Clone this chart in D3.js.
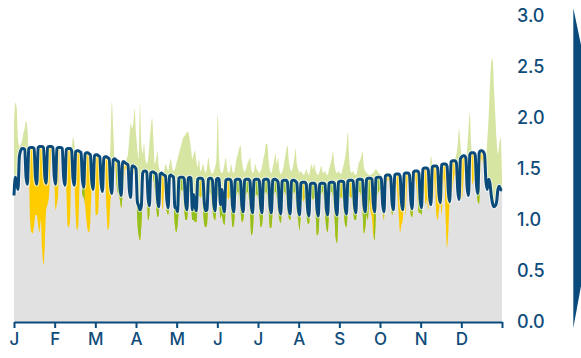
<!DOCTYPE html>
<html><head><meta charset="utf-8">
<script src="https://cdn.jsdelivr.net/npm/d3@7"></script>
<style>
body{margin:0;background:#fff}
svg{display:block}
text{font-family:Inter,Roboto,"Noto Sans",sans-serif}
</style>
</head><body>
<svg id="chart" width="581" height="358"></svg>
<script>
// ---------------- DATA ----------------
const monthLabels = ["J","F","M","A","M","J","J","A","S","O","N","D"];
const yTicks = [0, 0.5, 1.0, 1.5, 2.0, 2.5, 3.0];

// expected daily value (blue line)
const expected = [
1.24,1.42,1.36,1.30,1.62,1.68,1.70,1.70,1.69,1.42,1.35,1.70,1.71,1.71,1.71,1.70,1.42,1.35,1.71,1.72,1.72,1.72,1.71,1.43,1.36,1.71,1.72,1.72,1.72,1.71,1.43,
1.35,1.70,1.71,1.71,1.71,1.70,1.42,1.34,1.69,1.70,1.70,1.70,1.68,1.41,1.34,1.67,1.68,1.68,1.67,1.66,1.40,1.32,1.65,1.66,1.66,1.65,1.64,1.38,
1.30,1.63,1.64,1.64,1.63,1.62,1.36,1.28,1.61,1.62,1.62,1.61,1.60,1.34,1.26,1.59,1.60,1.59,1.58,1.57,1.32,1.24,1.57,1.57,1.56,1.55,1.54,1.30,1.22,1.53,1.53,
1.52,1.50,1.18,1.14,1.10,1.14,1.46,1.48,1.48,1.47,1.22,1.14,1.46,1.47,1.47,1.46,1.45,1.21,1.13,1.45,1.46,1.45,1.44,1.43,1.20,1.12,1.43,1.44,1.43,1.42,
1.12,1.12,1.08,1.41,1.42,1.42,1.42,1.40,1.17,1.10,1.41,1.42,1.41,1.10,1.25,1.14,1.09,1.40,1.41,1.41,1.41,1.39,1.16,1.09,1.10,1.40,1.41,1.41,1.39,1.16,1.09,
1.40,1.41,1.40,1.15,1.30,1.14,1.08,1.39,1.40,1.40,1.40,1.38,1.14,1.08,1.39,1.40,1.40,1.40,1.38,1.14,1.08,1.39,1.40,1.40,1.40,1.38,1.14,1.07,1.39,1.40,
1.40,1.40,1.38,1.14,1.07,1.39,1.40,1.40,1.40,1.38,1.13,1.07,1.39,1.40,1.40,1.39,1.37,1.13,1.06,1.38,1.39,1.39,1.39,1.37,1.12,1.06,1.38,1.39,1.39,1.38,1.36,
1.12,1.05,1.36,1.37,1.37,1.37,1.35,1.11,1.04,1.35,1.36,1.36,1.36,1.34,1.11,1.04,1.35,1.36,1.36,1.36,1.35,1.11,1.05,1.36,1.37,1.37,1.37,1.36,1.12,1.05,1.37,
1.38,1.38,1.38,1.37,1.13,1.06,1.38,1.39,1.39,1.39,1.38,1.14,1.07,1.39,1.40,1.40,1.40,1.39,1.15,1.08,1.40,1.41,1.41,1.41,1.40,1.16,1.08,1.41,1.42,1.42,
1.42,1.40,1.15,1.08,1.43,1.44,1.44,1.44,1.42,1.17,1.10,1.44,1.45,1.45,1.45,1.43,1.18,1.10,1.45,1.46,1.46,1.46,1.44,1.19,1.11,1.47,1.48,1.48,1.48,1.46,1.20,
1.12,1.50,1.51,1.51,1.51,1.49,1.23,1.15,1.52,1.53,1.53,1.53,1.51,1.25,1.17,1.54,1.55,1.55,1.55,1.53,1.27,1.18,1.57,1.58,1.58,1.58,1.56,1.29,1.20,1.60,
1.62,1.63,1.63,1.61,1.32,1.24,1.64,1.66,1.66,1.66,1.64,1.34,1.26,1.66,1.68,1.68,1.67,1.64,1.38,1.30,1.40,1.36,1.24,1.16,1.13,1.14,1.18,1.30,1.33,1.30,1.29
];

// upper daily value (pale green where above expected)
const upper = [
1.95,2.15,2.10,1.80,1.72,1.74,1.78,1.85,1.90,1.97,1.90,1.60,1.50,1.50,1.50,1.55,1.40,1.35,1.55,1.55,1.55,1.55,1.55,1.40,1.35,1.55,1.60,1.65,1.70,1.68,1.42,
1.35,1.60,1.60,1.68,1.70,1.70,1.42,1.34,1.60,1.55,1.55,1.60,1.68,1.81,1.75,1.55,1.50,1.55,1.60,1.62,1.40,1.32,1.55,1.55,1.50,1.50,1.55,1.38,
1.30,1.55,1.50,1.50,1.55,1.60,1.36,1.30,1.66,1.60,1.55,1.50,1.55,1.75,2.16,1.90,1.60,1.55,1.55,1.50,1.32,1.24,1.50,1.55,1.55,1.60,1.65,1.80,1.95,1.90,1.95,
2.09,1.85,1.70,1.60,2.15,1.75,1.65,1.75,1.60,1.55,1.60,1.75,1.90,2.00,1.80,1.55,1.60,1.67,1.52,1.48,1.46,1.45,1.48,1.55,1.52,1.48,1.55,1.60,1.52,1.48,
1.50,1.55,1.60,1.65,1.70,1.75,1.80,1.82,1.84,1.86,1.86,1.80,1.70,1.60,1.65,1.68,1.58,1.52,1.60,1.48,1.50,1.55,1.50,1.46,1.52,1.61,1.52,1.47,1.45,1.48,1.52,
1.60,2.04,1.62,1.48,1.46,1.48,1.55,1.61,1.50,1.46,1.48,1.55,1.48,1.46,1.52,1.60,1.65,1.70,1.73,1.58,1.50,1.47,1.50,1.55,1.58,1.61,1.50,1.46,1.48,1.55,
1.50,1.48,1.46,1.48,1.52,1.60,1.66,1.75,1.74,1.58,1.48,1.46,1.52,1.58,1.65,1.55,1.61,1.48,1.45,1.47,1.52,1.60,1.68,1.73,1.58,1.50,1.48,1.52,1.60,1.70,1.55,
1.50,1.46,1.48,1.46,1.44,1.46,1.50,1.46,1.44,1.50,1.55,1.50,1.55,1.48,1.45,1.44,1.48,1.53,1.48,1.46,1.48,1.45,1.44,1.50,1.55,1.60,1.67,1.55,1.48,1.46,1.48,
1.46,1.45,1.50,1.55,1.62,1.72,1.86,1.62,1.48,1.46,1.48,1.45,1.44,1.48,1.55,1.58,1.62,1.67,1.52,1.48,1.46,1.45,1.44,1.44,1.45,1.46,1.48,1.50,1.48,1.46,
1.45,1.44,1.30,1.20,1.45,1.47,1.46,1.44,1.40,1.15,1.08,1.40,1.42,1.40,1.40,1.38,1.15,1.08,1.40,1.40,1.42,1.44,1.42,1.15,1.08,1.44,1.46,1.46,1.45,1.44,1.18,
1.10,1.48,1.50,1.48,1.50,1.52,1.50,1.63,1.55,1.50,1.50,1.50,1.48,1.24,1.15,1.50,1.52,1.53,1.52,1.50,1.25,1.17,1.55,1.56,1.57,1.60,1.65,1.75,1.90,1.75,
1.62,1.60,1.60,1.60,1.70,1.90,2.05,1.75,1.64,1.64,1.62,1.33,1.25,1.64,1.66,1.66,1.65,1.62,1.60,1.78,2.00,2.33,2.55,2.58,2.30,2.03,1.78,1.65,1.75,1.81,1.45
];

// lower daily value (yellow / green where below expected)
const lower = [
1.30,1.45,1.40,1.35,1.65,1.70,1.72,1.72,1.70,1.45,1.40,1.50,1.00,0.88,0.87,0.95,1.05,1.05,0.95,0.88,1.00,0.70,0.56,0.75,1.10,1.15,1.22,1.50,1.70,1.55,1.40,
1.10,1.16,1.25,1.72,1.72,1.72,1.45,1.38,1.30,0.95,0.93,1.05,1.70,1.45,1.38,1.05,0.90,0.95,1.40,1.60,1.25,1.22,1.15,1.00,0.90,0.88,1.00,1.30,
1.28,1.50,1.05,1.05,1.10,1.50,1.36,1.28,1.62,1.45,1.10,0.90,0.95,1.20,1.30,1.60,1.60,1.45,1.30,1.25,1.20,1.12,1.25,1.40,1.50,1.50,1.45,1.32,1.25,1.55,1.45,
1.52,1.40,1.00,0.85,0.80,0.95,1.20,1.48,1.45,1.30,1.00,1.05,1.46,1.47,1.40,1.30,1.15,1.03,1.05,1.25,1.20,1.10,1.30,1.25,1.08,1.05,1.20,1.44,1.43,1.20,
0.95,0.88,0.95,1.10,1.24,1.30,1.28,1.10,1.00,1.00,1.15,1.28,1.20,1.00,1.00,0.98,0.98,1.12,1.24,1.22,1.24,1.10,0.95,0.93,0.95,1.18,1.28,1.24,1.10,1.02,1.00,
1.12,1.24,1.20,1.02,1.05,0.98,0.95,1.12,1.22,1.20,1.24,1.10,0.93,0.95,1.12,1.25,1.28,1.22,1.08,0.98,1.00,1.12,1.24,1.28,1.22,1.08,0.85,0.88,1.08,1.24,
1.25,1.22,1.08,0.93,0.95,1.10,1.25,1.28,1.22,1.08,0.92,0.93,1.10,1.25,1.28,1.22,1.08,1.00,0.97,1.10,1.25,1.28,1.22,1.08,1.02,1.00,1.10,1.25,1.28,1.22,1.08,
1.00,0.90,1.08,1.22,1.18,1.22,1.08,0.97,0.96,1.10,1.24,1.20,1.22,1.06,0.85,0.87,1.08,1.24,1.28,1.22,1.06,0.92,0.88,1.08,1.25,1.28,1.22,1.05,0.82,0.77,1.05,
1.22,1.22,1.22,1.08,0.95,0.93,1.10,1.24,1.22,1.22,1.08,1.00,1.00,1.10,1.26,1.28,1.22,1.08,0.87,0.92,1.05,1.00,1.20,1.08,1.02,0.85,0.80,1.05,1.24,1.28,
1.30,1.20,1.10,1.00,1.25,1.35,1.40,1.35,1.20,1.05,1.10,1.20,1.35,1.25,1.05,0.88,0.95,1.00,1.15,1.05,1.30,1.40,1.30,1.05,1.03,1.20,1.40,1.35,1.20,1.07,1.07,
1.05,1.20,1.30,1.15,1.20,1.10,1.23,1.15,1.30,1.20,1.40,1.05,1.00,1.10,1.17,1.05,1.30,1.40,1.00,0.73,0.90,1.18,1.25,1.30,1.40,1.45,1.30,1.25,1.20,1.30,
1.20,1.35,1.50,1.30,1.26,1.24,1.50,1.55,1.35,1.40,1.50,1.30,1.18,1.16,1.50,1.60,1.55,1.50,1.40,1.32,1.42,1.38,1.26,1.18,1.15,1.16,1.20,1.32,1.35,1.32,1.30
];

// colour class of the shortfall on each day: y = yellow, g = green (one string per month)
const shortfallType = [
"yyyyyyyyyyyyyyyyyyyyyyyyyyyyyyy",
"yyyyyyyyyyyyyyyyyyyyggyyyyyy",
"yyyyyyyyyyyyyyyyyygggggyyyyyyyy",
"yygggggyygggyygggggyyyyygggyyg",
"gggggggggggggggggggyggggggggggg",
"ggggggggyygggggggggggggggggggg",
"ggggggggggggggggggggggggggggggg",
"ggggyggggggggggggggggggggggggggg".slice(0,31),
"gyggggggyggggggggggggggyyyggggg".slice(0,30),
"gggyyyyyyggyyyyyyyyyyyyggyyyygg",
"gyyyyyyyyyyyyyyyyyyyyyyyyyyyyy",
"yyyyyyyyyyygggyyyyyyyyyyyyyyyyy"
].join("");

// ---------------- CHART ----------------
const C = {
  gray: "#e1e1e1", pale: "#d6e5a2", yellow: "#ffcc00", green: "#8fbf21",
  blue: "#0a4b7c", text: "#0f4c7a"
};
const svg = d3.select("#chart");
const nDays = expected.length;
if (upper.length !== nDays || lower.length !== nDays || shortfallType.length < nDays)
  console.error("length mismatch", nDays, upper.length, lower.length, shortfallType.length);

const x = d3.scaleLinear().domain([0, 12]).range([14, 502]);
const y = d3.scaleLinear().domain([0, 3]).range([322, 16]);
const dayPos = i => x(i * 12 / (nDays - 1));

const days = expected.map((e, i) => ({ i, e, u: upper[i], l: lower[i], g: shortfallType[i] === "g" }));

const curve = d3.curveMonotoneX;
const defs = svg.append("defs");
defs.append("clipPath").attr("id", "above").append("path")
  .attr("d", d3.area().curve(curve).x(d => dayPos(d.i)).y0(0).y1(d => y(d.e))(days));
defs.append("clipPath").attr("id", "below").append("path")
  .attr("d", d3.area().curve(curve).x(d => dayPos(d.i)).y0(y(0)).y1(d => y(d.e))(days));
defs.append("clipPath").attr("id", "greendays").selectAll("rect")
  .data(days.filter(d => d.g)).join("rect")
  .attr("x", d => dayPos(d.i - 0.5) - 0.2)
  .attr("width", d => dayPos(d.i + 0.5) - dayPos(d.i - 0.5) + 0.4)
  .attr("y", 0).attr("height", 358);

// base gray area
svg.append("path").attr("fill", C.gray)
  .attr("d", d3.area().curve(curve).x(d => dayPos(d.i)).y0(y(0)).y1(d => y(d.e))(days));

const upBand = d3.area().curve(curve).x(d => dayPos(d.i)).y0(d => y(d.e)).y1(d => y(d.u));
const lowBand = d3.area().curve(curve).x(d => dayPos(d.i)).y0(d => y(d.e)).y1(d => y(d.l));

svg.append("path").attr("fill", C.pale).attr("clip-path", "url(#above)").attr("d", upBand(days));
svg.append("path").attr("fill", C.yellow).attr("clip-path", "url(#below)").attr("d", lowBand(days));
svg.append("g").attr("clip-path", "url(#greendays)")
  .append("path").attr("fill", C.green).attr("clip-path", "url(#below)").attr("d", lowBand(days));

// expected line
const line = d3.line().curve(curve).x(d => dayPos(d.i)).y(d => y(d.e));
svg.append("path").attr("fill", "none").attr("stroke", "#fff").attr("stroke-opacity", 0.6)
  .attr("stroke-width", 5).attr("stroke-linejoin", "round").attr("d", line(days));
svg.append("path").attr("fill", "none").attr("stroke", C.blue)
  .attr("stroke-width", 3).attr("stroke-linejoin", "round").attr("d", line(days));

// bottom axis
const xAxis = d3.axisBottom(x).tickValues(d3.range(13)).tickSize(6).tickSizeOuter(0)
  .tickPadding(5).tickFormat(i => monthLabels[i] || "");
const gx = svg.append("g").attr("transform", `translate(0,${y(0)})`).call(xAxis);
gx.select(".domain").attr("stroke", C.blue).attr("stroke-width", 2);
gx.selectAll(".tick line").attr("stroke", C.blue).attr("stroke-width", 2);
gx.selectAll(".tick text").attr("fill", C.text).attr("font-size", 17).attr("font-weight", 500)
  .attr("font-family", "Inter, Roboto, sans-serif");

// right axis labels
const yAxis = d3.axisRight(y).tickValues(yTicks).tickSize(0).tickPadding(0).tickFormat(d3.format(".1f"));
const gy = svg.append("g").attr("transform", "translate(517,0)").call(yAxis);
gy.select(".domain").remove();
gy.selectAll(".tick text").attr("fill", C.text).attr("font-size", 18).attr("font-weight", 500)
  .attr("font-family", "Inter, Roboto, sans-serif");

// right edge marker
svg.append("path").attr("fill", C.blue)
  .attr("d", "M573.3,8 L581,45 L581,286 L573.3,328 Z");
</script>
</body></html>
